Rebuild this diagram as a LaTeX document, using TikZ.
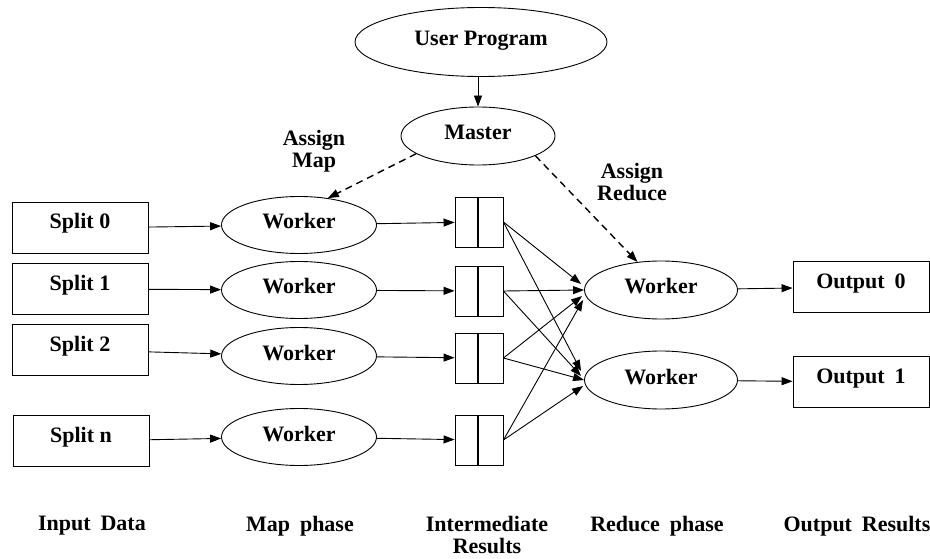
\documentclass[tikz,border=0pt]{standalone}
\usepackage{fontspec}
\setmainfont{Liberation Serif}
\usetikzlibrary{shapes.geometric,arrows.meta,calc}
\newcommand{\wsp}{\hspace{0.45em}}
\begin{document}
\begin{tikzpicture}[x=1pt,y=-1pt,
  txt/.style={font=\fontsize{22}{22}\selectfont\bfseries},
  ell/.style={txt,draw,ellipse,line width=0.9pt,inner sep=0pt,text height=10pt,text depth=2pt},
  databox/.style={txt,draw,rectangle,line width=0.9pt,inner sep=0pt,minimum width=136pt,minimum height=51pt,text height=8pt,text depth=6pt},
  midbox/.style={draw,rectangle,line width=0.9pt,inner sep=0pt,minimum width=48pt,minimum height=50pt,
    path picture={\draw[line width=1.6pt] ([xshift=-1pt]path picture bounding box.north) -- ([xshift=-1pt]path picture bounding box.south);}},
  arr/.style={line width=0.9pt,-{Triangle[length=11pt,width=8pt]}},
  darr/.style={line width=1.4pt,dash pattern=on 7pt off 5pt,-{Triangle[length=11pt,width=8pt]}},
  lbl/.style={txt,align=center}
]
\useasboundingbox (0,0) rectangle (930,559);

\node[ell,minimum width=252pt,minimum height=69pt] (up) at (481,42) {User Program};
\node[ell,minimum width=154pt,minimum height=58pt] (master) at (478,136) {Master};

\foreach \n/\y in {1/225,2/290,3/356,4/437}
  \node[ell,minimum width=155pt,minimum height=57pt] (w\n) at (299,\y) {Worker};

\node[databox] (s0) at (80,228) {Split 0};
\node[databox] (s1) at (80,289) {Split 1};
\node[databox] (s2) at (80,350) {Split 2};
\node[databox] (sn) at (81,441) {Split n};

\foreach \n/\y in {1/222,2/291,3/358,4/440}
  \node[midbox] (i\n) at (479,\y) {};

\node[ell,minimum width=153pt,minimum height=58pt] (r1) at (661,290) {Worker};
\node[ell,minimum width=153pt,minimum height=58pt] (r2) at (661,380) {Worker};

\node[databox] (o0) at (861,287) {Output\wsp 0};
\node[databox] (o1) at (861,382) {Output\wsp 1};

\node[lbl] (am) at (314,151) {Assign\\Map};
\node[lbl] (ar) at (632,182) {Assign\\Reduce};

\node[txt,anchor=base] (l1) at (92,530) {Input\wsp Data};
\node[txt,anchor=base] (l2) at (300,531) {Map\wsp phase};
\node[lbl] (l3) at (487,535) {Intermediate\\Results};
\node[txt,anchor=base] (l4) at (657,531) {Reduce\wsp phase};
\node[txt,anchor=base] (l5) at (857,531) {Output\wsp Results};

% arrows
\draw[arr] (master.north |- up.south) -- (master.north);
\draw[darr] (master.196) -- (w1.43);
\draw[darr] (master.341) -- (r1.130);

\draw[arr] (s0) -- (w1);
\draw[arr] (s1) -- (w2);
\draw[arr] (s2) -- (w3);
\draw[arr] (sn) -- (w4);

\foreach \n in {1,2,3,4} \draw[arr] (w\n) -- (i\n);

\draw[arr] (i1.east) -- ($(r1.west)+(-3,-6)$);
\draw[arr] (i2.east) -- (r1.west);
\draw[arr] (i3.east) -- ($(r1.west)+(-2,6)$);
\draw[arr] (i4.east) -- ($(r1.west)+(-1,10)$);
\draw[arr] (i1.east) -- ($(r2.west)+(-3,-9)$);
\draw[arr] (i2.east) -- ($(r2.west)+(-3,-4)$);
\draw[arr] (i3.east) -- (r2.west);
\draw[arr] (i4.east) -- ($(r2.west)+(-1,6)$);

\draw[arr] (r1) -- (o0);
\draw[arr] (r2) -- (o1);
\end{tikzpicture}
\end{document}
